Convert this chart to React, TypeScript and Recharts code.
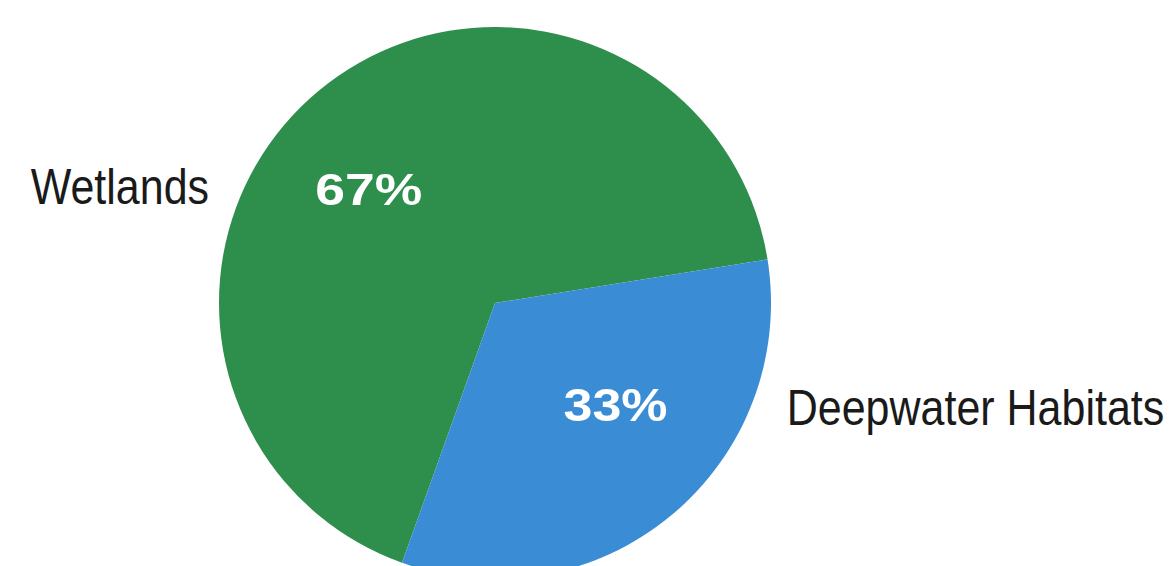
import React from 'react';
import { PieChart, Pie, Cell } from 'recharts';

// slice data
const categories = ['Wetlands', 'Deepwater Habitats'];
const shares = [67, 33];
const colors = ['#2e8e4c', '#3a8dd4'];

const data = categories.map((name, i) => ({ name, value: shares[i] }));

const RADIAN = Math.PI / 180;
const FONT = '"Liberation Sans", Arial, sans-serif';

// label placement per slice: angle in degrees, radius as fraction of outerRadius
const pctAngle = [138, -40];
const pctRadius = [0.615, 0.57];
const pctSize = [44, 46];
const pctWidth = [107, 104];
const nameAngle = [154.9, -22.1];
const NAME_SIZE = 43;
const NAME_STRETCH = 1.15; // the original face is taller than it is wide
const NAME_GAP = 36;

const renderLabel = (props: any) => {
  const { cx, cy, outerRadius, index, value, name } = props;

  // percentage inside the slice
  const a = pctAngle[index] * RADIAN;
  const r = outerRadius * pctRadius[index];
  const px = cx + r * Math.cos(a);
  const py = cy - r * Math.sin(a);

  // category name outside the pie
  const na = nameAngle[index] * RADIAN;
  const edge = outerRadius * Math.cos(na);
  const ny = cy - outerRadius * Math.sin(na) + NAME_SIZE * NAME_STRETCH * 0.36;
  const nx = cx + edge + (edge < 0 ? -NAME_GAP : NAME_GAP);

  return (
    <g>
      <text
        x={px}
        y={py + pctSize[index] * 0.36}
        textAnchor="middle"
        fill="#ffffff"
        fontFamily={FONT}
        fontWeight="bold"
        fontSize={pctSize[index]}
        textLength={pctWidth[index]}
        lengthAdjust="spacingAndGlyphs"
      >
        {`${value}%`}
      </text>
      <g transform={`translate(${nx},${ny}) scale(1,${NAME_STRETCH})`}>
        <text
          x={0}
          y={0}
          textAnchor={edge < 0 ? 'end' : 'start'}
          fill="#1a1a1a"
          fontFamily={FONT}
          fontSize={NAME_SIZE}
        >
          {name}
        </text>
      </g>
    </g>
  );
};

const App: React.FC = () => {
  return (
    <div style={{ position: 'absolute', left: 0, top: 0, width: 1173, height: 566, background: '#ffffff' }}>
      <PieChart width={1173} height={566} margin={{ top: 0, right: 0, bottom: 0, left: 0 }}>
        <Pie
          data={data}
          dataKey="value"
          nameKey="name"
          cx={495}
          cy={303}
          outerRadius={276}
          startAngle={9.1}
          endAngle={369.1}
          stroke="none"
          label={renderLabel}
          labelLine={false}
          isAnimationActive={false}
        >
          {data.map((entry, i) => (
            <Cell key={entry.name} fill={colors[i]} />
          ))}
        </Pie>
      </PieChart>
    </div>
  );
};

export default App;
